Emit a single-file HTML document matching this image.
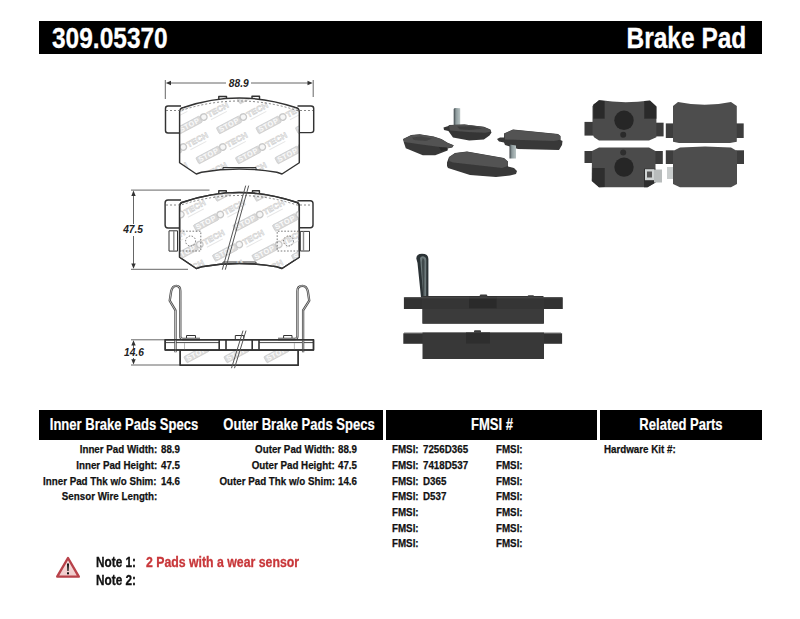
<!DOCTYPE html>
<html><head><meta charset="utf-8">
<style>
html,body{margin:0;padding:0;background:#fff;}
body{width:800px;height:619px;position:relative;overflow:hidden;font-family:"Liberation Sans",sans-serif;font-weight:bold;color:#111;}
.bar{position:absolute;background:#000;}
.t{position:absolute;white-space:nowrap;line-height:1;}
.L{transform-origin:0 0;}
.R{transform-origin:100% 0;}
.C{transform-origin:50% 0;}
.hd{color:#fff;font-size:16.3px;transform:scaleX(0.8);-webkit-text-stroke:0.2px #fff;}
.sm{font-size:11.5px;transform:scaleX(0.85);-webkit-text-stroke:0.25px #111;}
.nt{font-size:13.9px;transform:scaleX(0.85);-webkit-text-stroke:0.3px currentColor;}
svg{position:absolute;left:0;top:0;}
</style></head><body>
<!--DRAWINGS-->
<svg width="800" height="619" viewBox="0 0 800 619" style="position:absolute;left:0;top:0">
<defs>
<g id="logo" transform="rotate(-28)">
<rect x="0" y="-7" width="25.5" height="7" rx="1" fill="#dadada" stroke="#c6c6c6" stroke-width="0.6"/>
<text x="1.6" y="-1.1" font-family="Liberation Sans" font-weight="bold" font-size="7.4" fill="#fbfbfb" letter-spacing="0.55">STOP</text>
<circle cx="29" cy="-3.8" r="3.2" fill="#f6f6f6" stroke="#c9c9c9" stroke-width="1.4"/>
<text x="33.3" y="-0.8" font-family="Liberation Sans" font-weight="bold" font-size="8.2" fill="#f8f8f8" stroke="#d0d0d0" stroke-width="0.6" letter-spacing="0.2">TECH</text>
<line x1="34" y1="2" x2="52" y2="2" stroke="#e6e6e6" stroke-width="1"/>
</g>
<clipPath id="cb1"><use href="#body"/></clipPath>
<clipPath id="cb2"><use href="#body" transform="translate(0,94.5)"/></clipPath>
<clipPath id="fr"><rect x="180.8" y="350.5" width="117" height="14.2"/></clipPath>
<path id="body" d="M179.6 112 Q179.6 108 183.5 107.5 Q239 88.5 295.5 107.5 Q299.3 108 299.3 112 L299.3 162.75 L282 174 L276.8 172.3 Q239 165.5 201.5 172.3 L196.3 174 L179.6 162.75 Z"/>
</defs>
<g fill="none" stroke="#333" stroke-width="1.45" stroke-linejoin="round">
<!-- ===== Drawing 1 ===== -->
<!-- dimension 88.9 -->
<line x1="170" y1="83" x2="226" y2="83" stroke="#555" stroke-width="0.9"/>
<line x1="251" y1="83" x2="308" y2="83" stroke="#555" stroke-width="0.9"/>
<line x1="165.3" y1="80" x2="165.3" y2="99" stroke="#555" stroke-width="0.9"/>
<line x1="313.2" y1="80" x2="313.2" y2="97" stroke="#555" stroke-width="0.9"/>
<path d="M165.8 83 L171 80.8 L171 85.2 Z M312.7 83 L307.5 80.8 L307.5 85.2 Z" fill="#333" stroke="none"/>
<!-- ears -->
<path d="M181 106 L168 106 Q165.5 106 165.5 108.5 L165.5 130.5 Q165.5 133 168 133 L179.6 133"/>
<path d="M297.5 106 L311 106 Q313.7 106 313.7 108.5 L313.7 130.3 Q313.7 132.6 311 132.6 L299.3 132.6"/>
<!-- tabs -->
<path d="M218.8 100.5 L218.8 96.5 L226.5 96.5 L226.5 99.5 M252 98 L252 96.3 L259.5 96.3 L259.5 99"/>
<!-- body fill + watermark -->
<use href="#body" fill="#fff" stroke="none"/>
<g clip-path="url(#cb1)" stroke="none"><use href="#logo" x="0" y="0" transform="translate(161.0,104.0)"/>
<use href="#logo" x="0" y="0" transform="translate(200.5,104.0)"/>
<use href="#logo" x="0" y="0" transform="translate(240.0,104.0)"/>
<use href="#logo" x="0" y="0" transform="translate(279.5,104.0)"/>
<use href="#logo" x="0" y="0" transform="translate(140.5,134.0)"/>
<use href="#logo" x="0" y="0" transform="translate(180.0,134.0)"/>
<use href="#logo" x="0" y="0" transform="translate(219.5,134.0)"/>
<use href="#logo" x="0" y="0" transform="translate(259.0,134.0)"/>
<use href="#logo" x="0" y="0" transform="translate(298.5,134.0)"/>
<use href="#logo" x="0" y="0" transform="translate(159.5,164.0)"/>
<use href="#logo" x="0" y="0" transform="translate(199.0,164.0)"/>
<use href="#logo" x="0" y="0" transform="translate(238.5,164.0)"/>
<use href="#logo" x="0" y="0" transform="translate(278.0,164.0)"/>
<use href="#logo" x="0" y="0" transform="translate(139.0,194.0)"/>
<use href="#logo" x="0" y="0" transform="translate(178.5,194.0)"/>
<use href="#logo" x="0" y="0" transform="translate(218.0,194.0)"/>
<use href="#logo" x="0" y="0" transform="translate(257.5,194.0)"/>
<use href="#logo" x="0" y="0" transform="translate(297.0,194.0)"/></g>
<use href="#body"/>
<path d="M223 169 L223 167.5 L256 167.5 L256 169" stroke-width="1"/>
<path d="M166 114 L240 114" stroke="#555" stroke-width="0.8" stroke-dasharray="2 2" opacity="0"/>
<path d="M166 110.5 L181 110.5 Q239 91.5 297 110.5 L313 110.5" stroke="#666" stroke-width="0.8" stroke-dasharray="2 2"/>

<!-- ===== Drawing 2 ===== -->
<line x1="133.5" y1="195" x2="133.5" y2="224" stroke="#555" stroke-width="0.9"/>
<line x1="133.5" y1="236" x2="133.5" y2="264.5" stroke="#555" stroke-width="0.9"/>
<line x1="131" y1="190.1" x2="209.5" y2="190.1" stroke="#555" stroke-width="0.9"/>
<line x1="131" y1="269.3" x2="188" y2="269.3" stroke="#555" stroke-width="0.9"/>
<path d="M133.5 190.6 L131.3 196 L135.7 196 Z M133.5 268.8 L131.3 263.4 L135.7 263.4 Z" fill="#333" stroke="none"/>
<g transform="translate(0,94.5)">
<path d="M181 105.5 L168 105.5 Q165.1 105.5 165.1 108.5 L165.1 130.5 Q165.1 133.4 168 133.4 L179.6 133.4"/>
<path d="M297.5 106.2 L310.3 106.2 Q313 106.2 313 109 L313 130.5 Q313 133.2 310.3 133.2 L299.3 133.2"/>
<path d="M218.8 100.5 L218.8 96.2 L226.3 96.2 L226.3 99.5 M252.5 98 L252.5 96.2 L259.4 96.2 L259.4 99"/>
<use href="#body" fill="#fff" stroke="none"/>
<use href="#body"/>
<path d="M223 169 L223 167.5 L256 167.5 L256 169" stroke-width="1"/>

</g>
<g clip-path="url(#cb2)" stroke="none"><use href="#logo" x="0" y="0" transform="translate(138.0,201.5)"/>
<use href="#logo" x="0" y="0" transform="translate(177.5,201.5)"/>
<use href="#logo" x="0" y="0" transform="translate(217.0,201.5)"/>
<use href="#logo" x="0" y="0" transform="translate(256.5,201.5)"/>
<use href="#logo" x="0" y="0" transform="translate(296.0,201.5)"/>
<use href="#logo" x="0" y="0" transform="translate(157.0,231.5)"/>
<use href="#logo" x="0" y="0" transform="translate(196.5,231.5)"/>
<use href="#logo" x="0" y="0" transform="translate(236.0,231.5)"/>
<use href="#logo" x="0" y="0" transform="translate(275.5,231.5)"/>
<use href="#logo" x="0" y="0" transform="translate(136.5,261.5)"/>
<use href="#logo" x="0" y="0" transform="translate(176.0,261.5)"/>
<use href="#logo" x="0" y="0" transform="translate(215.5,261.5)"/>
<use href="#logo" x="0" y="0" transform="translate(255.0,261.5)"/>
<use href="#logo" x="0" y="0" transform="translate(294.5,261.5)"/>
<use href="#logo" x="0" y="0" transform="translate(155.5,291.5)"/>
<use href="#logo" x="0" y="0" transform="translate(195.0,291.5)"/>
<use href="#logo" x="0" y="0" transform="translate(234.5,291.5)"/>
<use href="#logo" x="0" y="0" transform="translate(274.0,291.5)"/></g>
<use href="#body" transform="translate(0,94.5)"/>
<path transform="translate(0,94.5)" d="M166 110.5 L181 110.5 Q239 91.5 297 110.5 L313 110.5" stroke="#666" stroke-width="0.8" stroke-dasharray="2 2"/>
<!-- clips -->
<rect x="169" y="230.8" width="8.5" height="20.3" stroke-width="1"/>
<line x1="173.8" y1="231" x2="173.8" y2="251" stroke="#888" stroke-width="1.4"/>
<rect x="300.3" y="231.4" width="9.2" height="19.6" stroke-width="1"/>
<line x1="303.5" y1="231.5" x2="303.5" y2="251" stroke="#888" stroke-width="1.4"/>
<!-- dotted rects / circles -->
<path d="M179.7 231.2 L200.8 231.2 L200.8 251 L179.7 251 M298.7 231.2 L277.2 231.2 L277.2 251 L298.7 251" stroke="#555" stroke-width="0.8" stroke-dasharray="1.6 1.6"/>
<circle cx="190.6" cy="241" r="5" stroke="#555" stroke-width="0.8" stroke-dasharray="1.5 1.5"/>
<circle cx="288.5" cy="241" r="5" stroke="#555" stroke-width="0.8" stroke-dasharray="1.5 1.5"/>
<!-- section lines -->
<line x1="245.7" y1="185.6" x2="222.3" y2="269.7" stroke="#555" stroke-width="1"/>
<line x1="248.7" y1="185.6" x2="225.3" y2="269.7" stroke="#555" stroke-width="1"/>

<!-- ===== Drawing 3 ===== -->
<line x1="133.5" y1="345" x2="133.5" y2="348" stroke="#555" stroke-width="0.9"/>
<line x1="133.5" y1="358" x2="133.5" y2="360" stroke="#555" stroke-width="0.9"/>
<line x1="131" y1="339.8" x2="165" y2="339.8" stroke="#555" stroke-width="0.9"/>
<line x1="131" y1="365" x2="180" y2="365" stroke="#555" stroke-width="0.9"/>
<path d="M133.5 340.3 L131.3 345.5 L135.7 345.5 Z M133.5 364.5 L131.3 359.3 L135.7 359.3 Z" fill="#333" stroke="none"/>
<!-- friction -->
<rect x="180.2" y="349.8" width="118" height="15.4" fill="#fff"/>
<g clip-path="url(#fr)" stroke="none"><use href="#logo" x="0" y="0" transform="translate(187.0,363.0)"/>
<use href="#logo" x="0" y="0" transform="translate(227.0,363.0)"/>
<use href="#logo" x="0" y="0" transform="translate(267.0,363.0)"/>
<use href="#logo" x="0" y="0" transform="translate(307.0,363.0)"/></g>
<rect x="180.2" y="349.8" width="118" height="15.4"/>
<!-- backing plate -->
<rect x="165.2" y="339.8" width="148.3" height="10.2" fill="#fff"/>
<line x1="166" y1="342.6" x2="219" y2="342.6" stroke-width="0.9"/>
<line x1="259" y1="342.6" x2="313" y2="342.6" stroke-width="0.9"/>
<path d="M219.2 339.8 L219.2 350 M226 339.8 L226 350 M252.2 339.8 L252.2 350 M259 339.8 L259 350" stroke-width="1.6"/>
<line x1="184.5" y1="343" x2="184.5" y2="350" stroke="#aaa" stroke-width="0.8"/>
<line x1="294.4" y1="343" x2="294.4" y2="350" stroke="#aaa" stroke-width="0.8"/>
<!-- tabs -->
<path d="M186.5 339.8 L186.5 335.5 L195.5 335.5 L195.5 339.8 M235.3 339.8 L235.3 335.5 L243.7 335.5 L243.7 339.8 M283.6 339.8 L283.6 335.5 L292 335.5 L292 339.8" stroke-width="1"/>
<!-- clips -->
<path d="M175.5 352.3 L175.5 310.4 L169.7 300.7 L171.2 291 Q172.5 285.8 176.2 285.8 Q180.3 285.8 180.3 291 L180.3 336.5 Q180.3 339 183 339 L200 339" stroke="#444" stroke-width="2.3"/>
<path d="M175.5 352.3 L175.5 310.4 L169.7 300.7 L171.2 291 Q172.5 285.8 176.2 285.8 Q180.3 285.8 180.3 291 L180.3 336.5 Q180.3 339 183 339 L200 339" stroke="#ddd" stroke-width="0.8"/>
<path d="M303.1 352.3 L303.1 310.4 L309.25 300.7 L307.8 291 Q306.5 285.8 302.5 285.8 Q297.4 285.8 297.4 291 L297.4 336.5 Q297.4 339 294.7 339 L278 339" stroke="#444" stroke-width="2.3"/>
<path d="M303.1 352.3 L303.1 310.4 L309.25 300.7 L307.8 291 Q306.5 285.8 302.5 285.8 Q297.4 285.8 297.4 291 L297.4 336.5 Q297.4 339 294.7 339 L278 339" stroke="#ddd" stroke-width="0.8"/>
<rect x="165.2" y="339.8" width="148.3" height="10.2"/>
<!-- section lines -->
<line x1="243" y1="330.6" x2="231.5" y2="368.2" stroke="#555" stroke-width="1"/>
<line x1="246" y1="330.6" x2="234.5" y2="368.2" stroke="#555" stroke-width="1"/>
</g>
<!-- dimension texts -->
<g font-family="Liberation Sans" font-weight="bold" font-style="italic" fill="#222">
<text x="228.8" y="86.8" font-size="10.2">88.9</text>
<text x="123.2" y="233.3" font-size="10.2">47.5</text>
<text x="124" y="356.3" font-size="10.2">14.6</text>
</g>
</svg>

<!--/DRAWINGS-->
<!--PHOTOS-->
<svg width="800" height="619" viewBox="0 0 800 619" style="position:absolute;left:0;top:0">
<defs><filter id="soft" x="-5%" y="-5%" width="110%" height="110%"><feGaussianBlur stdDeviation="0.35"/></filter></defs>
<g filter="url(#soft)">
<defs>
<linearGradient id="sens" x1="0" x2="1" y1="0" y2="0">
<stop offset="0" stop-color="#3d4448"/><stop offset="0.35" stop-color="#8d9a9c"/><stop offset="1" stop-color="#b9c4c4"/>
</linearGradient>
</defs>
<!-- ===== Photo group 1 (isometric) ===== -->
<!-- pad A -->
<path d="M403 139 L411.2 135 L419.7 134.3 L433.7 136.6 L441.4 139 L447.6 142.8 L453.8 145.2 L452.3 147.5 L447.6 148.5 L447.6 150.6 L435.2 155.2 L422.8 155.2 L405.8 148.3 L404 143 Z" fill="#383838"/>
<path d="M403.3 139.2 L411.2 135.2 L419.7 134.5 L433.7 136.8 L441.4 139.2 L447.6 143 L453.5 145.4 L452 147.3 L447.6 148 L421.3 144.4 L404.2 142 Z" fill="#535353"/>
<path d="M412 137.5 L421 136.5 L432 138.5 L426 141 L414 140 Z" fill="#444"/>
<path d="M439 147 L447 147.5 L447.5 150 L441 151 Z" fill="#2c2c2c"/>
<!-- pad B sensor -->
<path d="M453.7 126.5 L453.7 109 Q454 108 455.5 108 L460.2 108.3 L460.2 126.5 Z" fill="url(#sens)"/>
<!-- pad B -->
<path d="M443.5 127.5 L448.4 126 L449 125 L464.4 124.4 L483.9 126.8 L490.4 129.5 L491.5 132.5 L489.5 135.5 L483.9 139.5 L469.25 140.6 L453 137.5 L448.4 131 L444 130 Z" fill="#363636"/>
<path d="M449 125.2 L464.4 124.6 L483.7 127 L490.2 129.7 L491 131.5 L485.5 132.8 L468 132 L450 130.5 Z" fill="#4f4f4f"/>
<path d="M457 126.5 L475 126.2 L482 128.8 L470 130 L460 129.5 Z" fill="#3e3e3e"/>
<!-- pad C -->
<path d="M497 139 L500 137.5 L504 137.5 L504 133.5 L513 129.5 L558 134 L560.5 136 L560.5 140 L562.5 141 L562 145 L559 150 L518 149 L505 145 L504 142.5 L499 141.5 Z" fill="#373737"/>
<path d="M504.2 133.7 L513 129.7 L558 134.2 L560.3 136.2 L560.3 139.8 L554 141 L505 139.5 Z" fill="#525252"/>
<path d="M509.5 144.5 L516 145.5 L516 158.5 L509.5 158.5 Z" fill="url(#sens)"/>
<!-- pad D -->
<path d="M447 162.5 L449 157 L455 153 L467 151.5 L504 158 L508 161.5 L508 166.5 L514 168 L517 171 L516 174 L510 175.5 L496 177 L470 175 L448 168 L447 166 Z" fill="#373737"/>
<path d="M449.2 157.2 L455 153.2 L467 151.7 L503.8 158.2 L507.8 161.7 L507.8 166 L502 168 L453 162.5 L449.2 161 Z" fill="#535353"/>

<!-- ===== Photo group 2 (flat) ===== -->
<!-- TL -->
<rect x="584.5" y="121.9" width="9" height="13.7" fill="#3a3a3a"/>
<rect x="656" y="122.7" width="7.6" height="13.7" fill="#3a3a3a"/>
<path d="M592.5 106 L599 100.1 Q624 104 650 100.5 L656.4 106.5 L656.4 137.2 L649 140.5 L599 140.5 L594 137.2 L592.5 134 Z" fill="#4b4b4b"/>
<path d="M593.3 104.5 L599 100.5 L604.7 101 L604.7 118.7 L593.3 118.7 Z" fill="#2c2c2c"/>
<path d="M644.2 101 L650 100.8 L656.4 106.5 L656.4 118.7 L644.2 118.7 Z" fill="#2c2c2c"/>
<circle cx="624" cy="120.3" r="9.7" fill="#262626"/>
<circle cx="623.2" cy="134.8" r="3" fill="#2a2a2a"/>
<!-- TR -->
<rect x="665.8" y="123.4" width="8" height="14.6" fill="#3c3c3c"/>
<rect x="736" y="123.4" width="7.7" height="14.6" fill="#3c3c3c"/>
<path d="M673 106 L678 101.9 Q705 107.5 731 101.9 L736.8 106 L736.8 141.8 L730 143 L679 143 L673 141.8 Z" fill="#4d4d4d"/>
<!-- BL -->
<rect x="584.5" y="151" width="9" height="12" fill="#3a3a3a"/>
<rect x="655" y="151" width="7.8" height="13" fill="#3a3a3a"/>
<path d="M592 151 L599 147.5 L649 147.5 L655.5 151 L655.5 182.5 L647.5 187.3 L599 187.3 L591.7 181 Z" fill="#4b4b4b"/>
<path d="M592.5 168 L604.7 168 L604.7 187 L599 187.3 L592 181 Z" fill="#2e2e2e"/>
<path d="M644 168.7 L655.5 168.7 L655.5 182.5 L647.5 187.3 L644 187.3 Z" fill="#2e2e2e"/>
<circle cx="624" cy="167.1" r="9.7" fill="#262626"/>
<circle cx="623.2" cy="152.6" r="3" fill="#2e2e2e"/>
<rect x="645" y="169.2" width="9" height="11" fill="#cfd3d3"/>
<rect x="647" y="171.5" width="5" height="6" fill="#555"/>
<rect x="654" y="169.5" width="8" height="13" fill="#b8bcbc"/>
<!-- BR -->
<rect x="665.8" y="150.3" width="8" height="13.7" fill="#3c3c3c"/>
<rect x="736" y="150.3" width="8" height="13.7" fill="#3c3c3c"/>
<path d="M673 151 L680 147.5 L705 146.5 L731 147.5 L737 151 L737 184 L731 187.2 L680 187.2 L673 184 Z" fill="#4d4d4d"/>
<rect x="667" y="167" width="6" height="12" fill="#c9cdcd"/>

<!-- ===== Photo group 3 (side) ===== -->
<!-- top pad -->
<path d="M416.3 258.5 Q416.3 253.7 422 253.7 Q428.4 253.7 428.4 259 L428.4 297.5 L421 297.5 L417.5 263 Z" fill="#2c3235"/>
<path d="M420 258 Q421 256 423 256.2 Q426.3 256.8 426.3 260 L426.2 296 L423.3 296 L420.5 263 Z" fill="#6d7a7c"/>
<path d="M422.5 258 Q424.5 258.5 424.5 261 L424.3 296 L423.3 296 L421.8 262 Z" fill="#2e3538" opacity="0.7"/>
<rect x="403.9" y="297.3" width="158.9" height="11.7" fill="#333"/>
<rect x="422.5" y="296" width="121" height="27.6" fill="#363636"/>
<rect x="422.5" y="309" width="121.5" height="14.6" fill="#3a3a3a"/>
<rect x="469" y="296.7" width="27.8" height="11.7" fill="#2c2c2c"/>
<rect x="479.8" y="294.6" width="7.4" height="3" rx="1" fill="#3a3a3a"/>
<rect x="527.7" y="295.2" width="6.3" height="2.5" rx="1" fill="#3a3a3a"/>
<rect x="404.5" y="297.3" width="157.5" height="1" fill="#4a4a4a"/>
<!-- bottom pad -->
<rect x="403.3" y="333.3" width="158.8" height="10.5" fill="#333"/>
<rect x="404" y="332.6" width="157" height="1.2" fill="#5a5a5a"/>
<rect x="422.5" y="332.5" width="121.5" height="26.5" fill="#383838"/>
<rect x="466" y="332.5" width="24" height="11" fill="#2d2d2d"/>
<rect x="474" y="330.2" width="7" height="2.6" rx="1" fill="#3a3a3a"/>
</g>
</svg>

<!--/PHOTOS-->
<!-- title bar -->
<div class="bar" style="left:39px;top:20.5px;width:723px;height:33.5px;"></div>
<div class="t L" style="left:51.5px;top:23px;font-size:29.5px;color:#fff;transform:scaleX(0.83);-webkit-text-stroke:0.3px #fff;">309.05370</div>
<div class="t R" style="right:54px;top:23px;font-size:29.5px;color:#fff;transform:scaleX(0.83);-webkit-text-stroke:0.3px #fff;">Brake Pad</div>

<!-- table header bars -->
<div class="bar" style="left:39px;top:410px;width:344px;height:30px;"></div>
<div class="bar" style="left:386px;top:410px;width:211px;height:30px;"></div>
<div class="bar" style="left:600px;top:410px;width:162px;height:30px;"></div>
<div class="t hd C" style="left:24px;width:200px;text-align:center;top:416px;">Inner Brake Pads Specs</div>
<div class="t hd C" style="left:199px;width:200px;text-align:center;top:416px;">Outer Brake Pads Specs</div>
<div class="t hd C" style="left:392px;width:200px;text-align:center;top:416px;">FMSI #</div>
<div class="t hd C" style="left:581px;width:200px;text-align:center;top:416px;">Related Parts</div>

<!-- inner specs -->
<div class="t sm R" style="right:643px;top:444px;">Inner Pad Width:</div>
<div class="t sm L" style="left:161px;top:444px;">88.9</div>
<div class="t sm R" style="right:643px;top:460px;">Inner Pad Height:</div>
<div class="t sm L" style="left:161px;top:460px;">47.5</div>
<div class="t sm R" style="right:643px;top:476px;">Inner Pad Thk w/o Shim:</div>
<div class="t sm L" style="left:161px;top:476px;">14.6</div>
<div class="t sm R" style="right:643px;top:491px;">Sensor Wire Length:</div>

<!-- outer specs -->
<div class="t sm R" style="right:465px;top:444px;">Outer Pad Width:</div>
<div class="t sm L" style="left:338px;top:444px;">88.9</div>
<div class="t sm R" style="right:465px;top:460px;">Outer Pad Height:</div>
<div class="t sm L" style="left:338px;top:460px;">47.5</div>
<div class="t sm R" style="right:465px;top:476px;">Outer Pad Thk w/o Shim:</div>
<div class="t sm L" style="left:338px;top:476px;">14.6</div>

<!-- FMSI -->
<div class="t sm L" style="left:392px;top:444.0px;">FMSI:</div>
<div class="t sm L" style="left:423px;top:444.0px;">7256D365</div>
<div class="t sm L" style="left:496px;top:444.0px;">FMSI:</div>
<div class="t sm L" style="left:392px;top:459.7px;">FMSI:</div>
<div class="t sm L" style="left:423px;top:459.7px;">7418D537</div>
<div class="t sm L" style="left:496px;top:459.7px;">FMSI:</div>
<div class="t sm L" style="left:392px;top:475.5px;">FMSI:</div>
<div class="t sm L" style="left:423px;top:475.5px;">D365</div>
<div class="t sm L" style="left:496px;top:475.5px;">FMSI:</div>
<div class="t sm L" style="left:392px;top:491.2px;">FMSI:</div>
<div class="t sm L" style="left:423px;top:491.2px;">D537</div>
<div class="t sm L" style="left:496px;top:491.2px;">FMSI:</div>
<div class="t sm L" style="left:392px;top:506.9px;">FMSI:</div>
<div class="t sm L" style="left:496px;top:506.9px;">FMSI:</div>
<div class="t sm L" style="left:392px;top:522.7px;">FMSI:</div>
<div class="t sm L" style="left:496px;top:522.7px;">FMSI:</div>
<div class="t sm L" style="left:392px;top:538.4px;">FMSI:</div>
<div class="t sm L" style="left:496px;top:538.4px;">FMSI:</div>

<!-- related -->
<div class="t sm L" style="left:604px;top:444px;">Hardware Kit #:</div>

<!-- warning icon -->
<svg width="800" height="619" style="position:absolute;left:0;top:0">
<defs><linearGradient id="tg" x1="0" y1="0" x2="0" y2="1"><stop offset="0" stop-color="#f7e3e3"/><stop offset="1" stop-color="#f0c9c9"/></linearGradient></defs>
<path d="M68 558 L78.8 576.6 L57.2 576.6 Z" fill="url(#tg)" stroke="#b8424a" stroke-width="2.4" stroke-linejoin="round"/>
<path d="M67 563.5 L69 563.5 L68.6 571 L67.4 571 Z" fill="#111"/>
<rect x="67" y="572.3" width="2" height="2" fill="#111"/>
</svg>
<!-- notes -->
<div class="t nt L" style="left:96px;top:556px;">Note 1:</div>
<div class="t nt L" style="left:146px;top:555.5px;color:#c8373a;transform:scaleX(0.885);">2 Pads with a wear sensor</div>
<div class="t nt L" style="left:96px;top:574px;">Note 2:</div>

</body></html>
